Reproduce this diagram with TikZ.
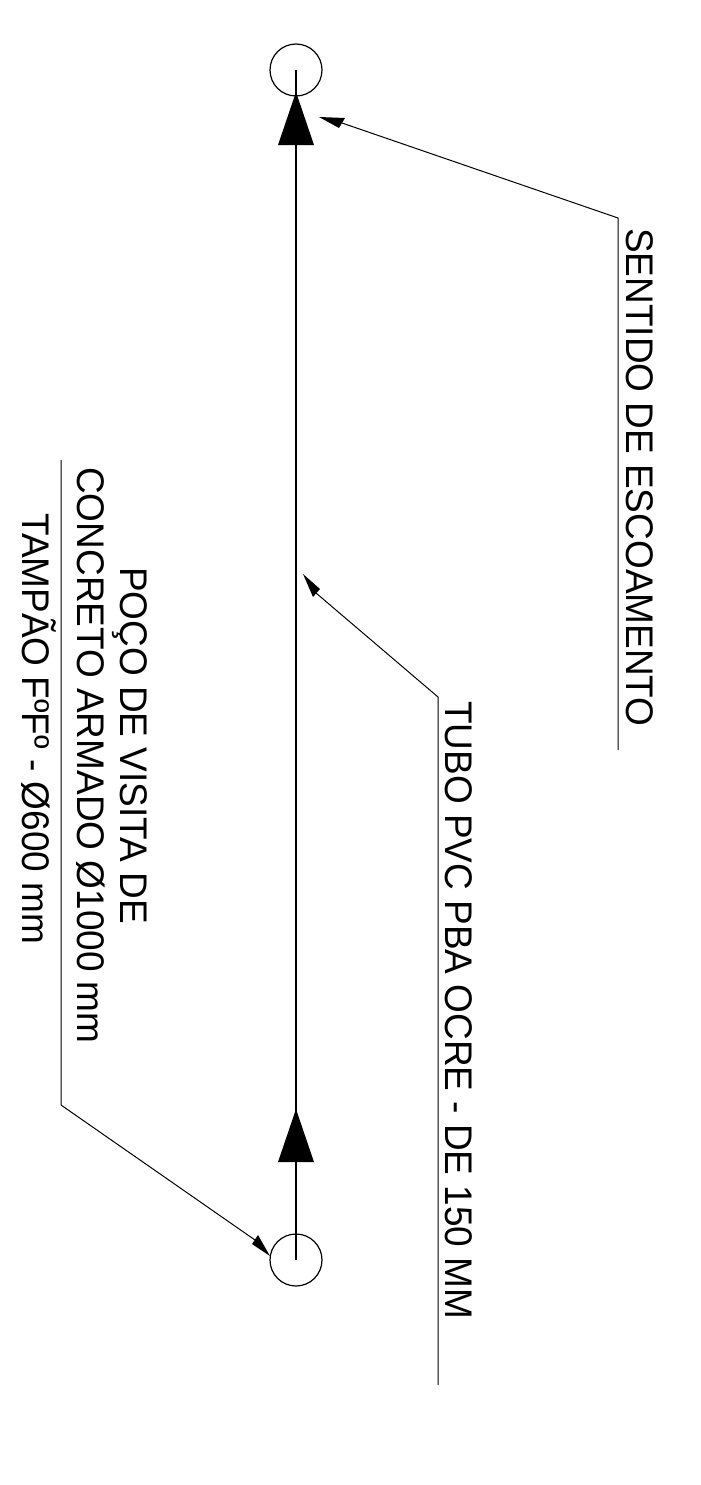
\documentclass[tikz,border=0pt]{standalone}
\usepackage{fontspec}
\setmainfont[FakeStretch=0.96]{Liberation Sans}
\tikzset{
 pipe/.style={draw=black,line width=1.2pt},
 leader/.style={draw=black,line width=1pt},
 manhole/.style={circle,draw=black,line width=1.2pt,minimum size=52pt,inner sep=0pt},
 lbl/.style={rotate=-90,anchor=base west,inner sep=0pt,font=\fontsize{38.5}{46}\selectfont},
 tip/.style={fill=black,draw=none}
}
\begin{document}
\begin{tikzpicture}[x=1pt,y=-1pt]
\useasboundingbox (0,0) rectangle (701,1485);
\node[manhole] (mhA) at (296,70) {};
\node[manhole] (mhB) at (296,1260) {};
\coordinate (cA) at (296,70);
\coordinate (cB) at (296,1260);
\draw[pipe] (cA) -- (cB);
\fill[tip] (296,92) -- (314,145) -- (278,145) -- cycle;
\fill[tip] (296,1109) -- (314,1162) -- (278,1162) -- cycle;
% labels
\node[lbl] (sentido) at (626,228) {SENTIDO DE ESCOAMENTO};
\node[lbl] (tubo) at (445,701) {TUBO PVC PBA OCRE - DE 150 MM};
\node[lbl] (poco) at (120,567) {POÇO DE VISITA DE};
\node[lbl] (concreto) at (77,467) {CONCRETO ARMADO Ø1000 mm};
\node[lbl] (tampao) at (23,513) {TAMPÃO FºFº - Ø600 mm};
% leaders
\coordinate (s1) at (618,750); \coordinate (s2) at (618,218); \coordinate (s3) at (342,123);
\draw[leader] (s1) -- (s2) -- (s3);
\fill[tip] (319,117) -- (345,118) -- (339,128) -- cycle;
\coordinate (t1) at (438,1385); \coordinate (t2) at (438,697); \coordinate (t3) at (316,593);
\draw[leader] (t1) -- (t2) -- (t3);
\fill[tip] (303,574) -- (320,589) -- (313,597) -- cycle;
\coordinate (p1) at (61,460); \coordinate (p2) at (61,1105); \coordinate (p3) at (255,1240);
\draw[leader] (p1) -- (p2) -- (p3);
\fill[tip] (270,1256) -- (258,1235) -- (252,1244) -- cycle;
\end{tikzpicture}
\end{document}
